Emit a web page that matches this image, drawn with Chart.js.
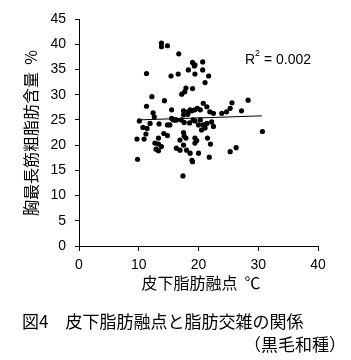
<!DOCTYPE html>
<html>
<head>
<meta charset="utf-8">
<script src="https://cdn.jsdelivr.net/npm/chart.js@4/dist/chart.umd.min.js"></script>
<style>
  html, body { margin: 0; padding: 0; background: #fff; }
  #wrap { width: 351px; height: 360px; }
</style>
</head>
<body>
<div id="wrap"><canvas id="chart1" width="351" height="360"></canvas></div>
<script>
// 皮下脂肪融点 (℃)
var meltPoint = [
  13.8, 13.8, 14.8, 16.7, 11.3, 15.4, 16.6, 18.3, 19.0, 19.3,
  19.4, 20.7, 20.7, 21.7, 21.1, 12.2, 14.3, 11.3, 17.9, 17.7,
  17.2, 19.0, 15.5, 17.5, 18.3, 18.9, 19.8, 17.5, 18.2, 10.1,
  11.9, 12.6, 13.4, 14.8, 15.2, 15.8, 16.1, 16.3, 15.5, 19.1,
  19.4, 10.7, 11.4, 11.2, 9.7, 10.9, 13.3, 14.2, 14.8, 12.7,
  13.3, 13.8, 12.9, 13.3, 9.8, 16.3, 16.9, 16.9, 17.6, 17.9,
  17.5, 18.0, 18.6, 18.9, 19.0, 19.4, 19.7, 19.4, 20.0, 17.4,
  30.7, 26.3, 25.3, 21.8, 22.0, 21.5, 17.5, 28.3, 25.6, 25.3,
  24.7, 27.2, 23.9, 20.8, 21.4, 20.3, 21.9, 22.5, 19.4, 18.6,
  20.3, 20.8, 21.4, 22.2, 22.5, 17.1, 17.6, 18.5, 20.0, 21.1,
  12.4, 20.5, 19.4
];
// 胸最長筋粗脂肪含量 (%)
var fatContent = [
  40.2, 39.5, 39.7, 38.1, 34.2, 33.7, 34.1, 34.9, 36.4, 35.7,
  34.1, 36.5, 34.9, 33.7, 32.4, 29.6, 28.8, 27.7, 31.3, 30.6,
  30.1, 31.2, 27.0, 26.8, 26.6, 26.8, 27.3, 26.0, 26.1, 24.8,
  24.3, 25.6, 24.2, 24.0, 24.0, 25.0, 25.0, 25.0, 25.3, 25.0,
  24.8, 23.5, 23.3, 22.2, 21.2, 21.2, 21.4, 22.3, 21.9, 20.4,
  20.2, 19.7, 19.2, 18.9, 17.2, 19.4, 19.0, 21.0, 21.8, 21.4,
  20.0, 19.0, 18.4, 17.0, 16.7, 21.4, 20.9, 20.4, 18.4, 13.9,
  22.7, 19.5, 18.7, 17.6, 20.2, 21.4, 22.5, 28.9, 28.4, 27.3,
  26.6, 26.8, 26.3, 28.3, 27.6, 27.0, 26.6, 26.3, 27.0, 27.0,
  25.0, 24.0, 24.3, 24.6, 23.7, 25.0, 24.5, 24.4, 24.0, 23.4,
  26.4, 23.0, 35.9
];
// 回帰直線の両端
var trendX = [10.0, 30.6];
var trendY = [25.0, 25.8];
var xTicks = [0, 10, 20, 30, 40];
var yTicks = [0, 5, 10, 15, 20, 25, 30, 35, 40, 45];

var points = [];
for (var i in meltPoint) {
  points.push({x: meltPoint[i], y: fatContent[i]});
}
var trend = [];
for (var j in trendX) {
  trend.push({x: trendX[j], y: trendY[j]});
}

var jpFont = '"Noto Sans CJK JP", sans-serif';

var textPlugin = {
  id: 'texts',
  afterDraw: function (chart) {
    var c = chart.ctx;
    c.save();
    c.fillStyle = '#000';
    // R2
    c.font = '14px "Liberation Sans", Arial, sans-serif';
    c.textBaseline = 'alphabetic';
    c.textAlign = 'left';
    c.fillText('R', 245, 64);
    c.font = '9px "Liberation Sans", Arial, sans-serif';
    c.fillText('2', 255, 56);
    c.font = '14px "Liberation Sans", Arial, sans-serif';
    c.fillText('= 0.002', 264, 64);
    // x title
    c.font = '16px ' + jpFont;
    c.textAlign = 'center';
    c.textBaseline = 'middle';
    c.fillText('皮下脂肪融点  ℃', 201, 283);
    // caption
    c.font = '17px ' + jpFont;
    c.textAlign = 'left';
    c.fillText('図4　皮下脂肪融点と脂肪交雑の関係', 22, 322);
    c.textAlign = 'right';
    c.fillText('（黒毛和種）', 346, 345);
    // y title
    c.translate(31, 133);
    c.rotate(-Math.PI / 2);
    c.font = '16px ' + jpFont;
    c.textAlign = 'center';
    c.fillText('胸最長筋粗脂肪含量  %', 0, 0);
    c.restore();
  }
};

var ctx = document.getElementById('chart1');
var chart1 = new Chart(ctx, {
  type: 'scatter',
  data: {
    datasets: [
      {
        label: 'data',
        data: points,
        backgroundColor: '#000',
        borderColor: '#000',
        pointRadius: 2.6,
        pointBorderWidth: 0
      },
      {
        type: 'line',
        label: 'trend',
        data: trend,
        borderColor: '#000',
        borderWidth: 1,
        pointRadius: 0,
        fill: false
      }
    ]
  },
  options: {
    responsive: false,
    animation: false,
    layout: { padding: { left: 0, top: 19, right: 33, bottom: 0 } },
    plugins: {
      legend: { display: false },
      tooltip: { enabled: false }
    },
    scales: {
      x: {
        type: 'linear',
        min: 0,
        max: 40,
        afterBuildTicks: function (s) { s.ticks = xTicks.map(function (v) { return {value: v}; }); },
        afterFit: function (s) { s.height = 114; },
        border: { display: true, color: '#000', width: 1 },
        grid: { drawOnChartArea: false, color: '#000', tickLength: 5, tickWidth: 1 },
        ticks: { color: '#000', padding: 6, maxRotation: 0,
                 font: { size: 14, family: '"Liberation Sans", Arial, sans-serif' } }
      },
      y: {
        type: 'linear',
        min: 0,
        max: 45,
        afterBuildTicks: function (s) { s.ticks = yTicks.map(function (v) { return {value: v}; }); },
        afterFit: function (s) { s.width = 79; },
        border: { display: true, color: '#000', width: 1 },
        grid: { drawOnChartArea: false, color: '#000', tickLength: 4, tickWidth: 1 },
        ticks: { color: '#000', padding: 9,
                 font: { size: 14, family: '"Liberation Sans", Arial, sans-serif' } }
      }
    }
  },
  plugins: [textPlugin]
});
</script>
</body>
</html>
